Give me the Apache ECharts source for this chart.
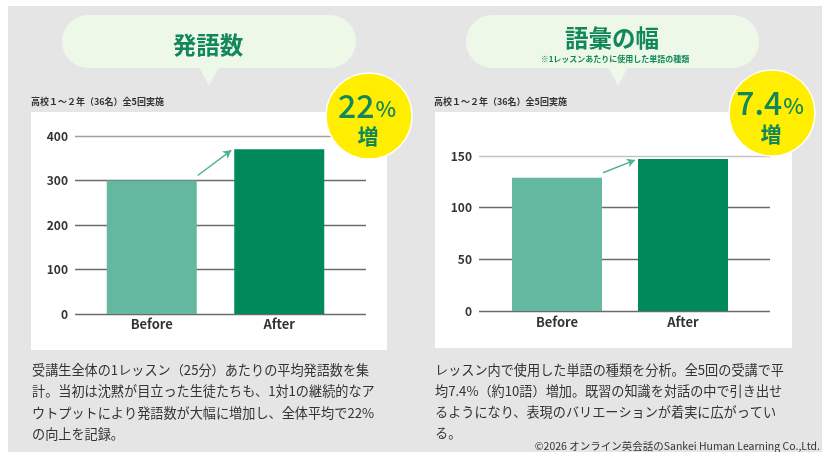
<!DOCTYPE html>
<html>
<head>
<meta charset="utf-8">
<script src="https://cdn.jsdelivr.net/npm/echarts@6/dist/echarts.min.js"></script>
<style>
html, body { margin: 0; padding: 0; background: #fff; }
#main { width: 832px; height: 452px; }
</style>
</head>
<body>
<div id="main"></div>
<script>
// data
const categories = ['Before', 'After'];
const utteranceValues = [300, 370];
const utteranceTicks = [0, 100, 200, 300, 400];
const vocabValues = [129, 147];
const vocabTicks = [0, 50, 100, 150];

const barColors = ['#63b89f', '#008a5c'];
const green = '#12885a';
const font = '"Noto Sans CJK JP", "Noto Sans", sans-serif';

const chart = echarts.init(document.getElementById('main'));

function axisGrid(ticks, lightTop) {
  const colors = ticks.map((t, i) => (i === ticks.length - 1 ? lightTop : '#6b6b6b'));
  return {
    xAxis: { type: 'category', data: categories, show: false },
    yAxis: {
      type: 'value',
      min: ticks[0],
      max: ticks[ticks.length - 1],
      interval: ticks[1] - ticks[0],
      axisLine: { show: false },
      axisTick: { show: false },
      axisLabel: { color: '#333', fontSize: 12, fontWeight: 'bold', fontFamily: font, margin: 7 },
      splitLine: { lineStyle: { color: colors, width: 1.3 } }
    }
  };
}

function barGrid(ticks, margin) {
  return {
    xAxis: {
      type: 'category',
      data: categories,
      axisLine: { show: false },
      axisTick: { show: false },
      axisLabel: { color: '#333', fontSize: 13, fontWeight: 'bold', fontFamily: font, margin: margin }
    },
    yAxis: { type: 'value', min: ticks[0], max: ticks[ticks.length - 1], show: false }
  };
}

const a0 = axisGrid(utteranceTicks, '#a0a0a0');
const b0 = barGrid(utteranceTicks, 4);
const a1 = axisGrid(vocabTicks, '#c4c4c4');
const b1 = barGrid(vocabTicks, 5);

function barSeries(idx, values) {
  return {
    type: 'bar',
    xAxisIndex: idx,
    yAxisIndex: idx,
    barWidth: 90,
    silent: true,
    data: values.map((v, i) => ({ value: v, itemStyle: { color: barColors[i] } }))
  };
}

function bubble(x, w, tailX) {
  return [
    { type: 'rect', z: -5, shape: { x: x, y: 15, width: w, height: 53, r: 27 }, style: { fill: '#eef8e9' } },
    { type: 'polygon', z: -5, shape: { points: [[tailX - 10, 67], [tailX + 10, 67], [tailX, 86]] }, style: { fill: '#eef8e9' } }
  ];
}

function txt(x, y, text, size, color, weight, align, vAlign, lineHeight) {
  return {
    type: 'text', z: 50, x: x, y: y,
    style: {
      text: text, fill: color, fontSize: size, fontWeight: weight, fontFamily: font,
      lineHeight: lineHeight || undefined,
      align: align, textAlign: align, verticalAlign: vAlign, textVerticalAlign: vAlign
    }
  };
}

function badge(cx, cy, num, numY, zoY) {
  const zo = txt(cx - 1, zoY, '増', 21, green, 'bold', 'center', 'middle');
  zo.z = 61;
  return [
    { type: 'circle', z: 60, shape: { cx: cx, cy: cy, r: 43 }, style: { fill: '#ffee00', stroke: '#fff', lineWidth: 1.5 } },
    {
      type: 'text', z: 61, x: cx - 2, y: numY,
      style: {
        text: '{n|' + num + '}{p|%}', align: 'center', textAlign: 'center', verticalAlign: 'middle', textVerticalAlign: 'middle',
        rich: {
          n: { fontSize: 32, fontWeight: 500, fontFamily: font, fill: green, color: green },
          p: { fontSize: 22, fontWeight: 500, fontFamily: font, fill: green, color: green, padding: [6, 0, 0, 1] }
        }
      }
    },
    zo
  ];
}

const leftText = '受講生全体の1レッスン（25分）あたりの平均発語数を集\n計。当初は沈黙が目立った生徒たちも、1対1の継続的なア\nウトプットにより発語数が大幅に増加し、全体平均で22%\nの向上を記録。';
const rightText = 'レッスン内で使用した単語の種類を分析。全5回の受講で平\n均7.4%（約10語）増加。既習の知識を対話の中で引き出せ\nるようになり、表現のバリエーションが着実に広がってい\nる。';

const graphics = [
  { type: 'rect', z: -10, shape: { x: 8, y: 6, width: 814, height: 446 }, style: { fill: '#e5e5e5' } },
  { type: 'rect', z: -9, shape: { x: 31, y: 112, width: 356, height: 238 }, style: { fill: '#fff' } },
  { type: 'rect', z: -9, shape: { x: 435, y: 112, width: 357, height: 236 }, style: { fill: '#fff' } }
]
  .concat(bubble(62, 294, 209))
  .concat(bubble(466, 293, 618))
  .concat([
    txt(208, 45, '発語数', 23.5, green, 'bold', 'center', 'middle'),
    txt(612, 38, '語彙の幅', 23.5, green, 'bold', 'center', 'middle'),
    txt(615, 58.5, '※1レッスンあたりに使用した単語の種類', 8, green, 'bold', 'center', 'middle'),
    txt(31, 102, '高校１～２年（36名）全5回実施', 9, '#333', 'bold', 'left', 'middle'),
    txt(434, 102, '高校１～２年（36名）全5回実施', 9, '#333', 'bold', 'left', 'middle'),
    txt(32, 359, leftText, 13.15, '#333', 'normal', 'left', 'top', 21.5),
    txt(435, 359, rightText, 13.15, '#333', 'normal', 'left', 'top', 21),
    txt(820, 446, '©2026 オンライン英会話のSankei Human Learning Co.,Ltd.', 10.5, '#333', 'normal', 'right', 'middle')
  ])
  .concat(badge(369, 116, '22', 106, 136))
  .concat(badge(772, 113, '7.4', 103, 134));

chart.setOption({
  animation: false,
  backgroundColor: '#fff',
  grid: [
    { left: 75, top: 136, width: 291, height: 178 },
    { left: 88, top: 136, width: 255, height: 178 },
    { left: 479, top: 156, width: 291, height: 155 },
    { left: 494, top: 156, width: 252, height: 155 }
  ],
  xAxis: [
    Object.assign({ gridIndex: 0 }, a0.xAxis),
    Object.assign({ gridIndex: 1 }, b0.xAxis),
    Object.assign({ gridIndex: 2 }, a1.xAxis),
    Object.assign({ gridIndex: 3 }, b1.xAxis)
  ],
  yAxis: [
    Object.assign({ gridIndex: 0 }, a0.yAxis),
    Object.assign({ gridIndex: 1 }, b0.yAxis),
    Object.assign({ gridIndex: 2 }, a1.yAxis),
    Object.assign({ gridIndex: 3 }, b1.yAxis)
  ],
  graphic: { elements: graphics },
  series: [barSeries(1, utteranceValues), barSeries(3, vocabValues)]
});

// small arrow from the Before bar top to the After bar top
function arrowFor(idx, values) {
  const p0 = chart.convertToPixel({ xAxisIndex: idx, yAxisIndex: idx }, [categories[0], values[0]]);
  const p1 = chart.convertToPixel({ xAxisIndex: idx, yAxisIndex: idx }, [categories[1], values[1]]);
  return {
    silent: true,
    symbol: ['none', 'arrow'],
    symbolSize: [7, 8],
    label: { show: false },
    lineStyle: { color: '#4fb38e', width: 1.5, type: 'solid' },
    data: [[{ x: p0[0] + 46, y: p0[1] - 5 }, { x: p1[0] - 48, y: p1[1] + 1 }]]
  };
}

chart.setOption({
  series: [
    { markLine: arrowFor(1, utteranceValues) },
    { markLine: arrowFor(3, vocabValues) }
  ]
});
</script>
</body>
</html>
